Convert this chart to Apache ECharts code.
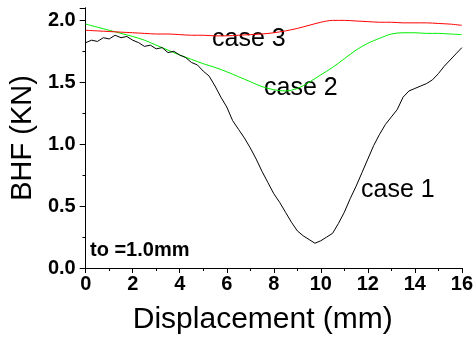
<!DOCTYPE html>
<html>
<head>
<meta charset="utf-8">
<script src="https://cdn.jsdelivr.net/npm/echarts@6/dist/echarts.min.js"></script>
<style>
  html, body { margin: 0; padding: 0; background: #fff; }
  #chart { width: 476px; height: 340px; }
</style>
</head>
<body>
<div id="chart"></div>
<script>
// case 1 (black), sampled every 0.25 mm
const dispFine = [0, 0.25, 0.5, 0.75, 1, 1.25, 1.5, 1.75, 2, 2.25, 2.5, 2.75, 3, 3.25, 3.5, 3.75,
  4, 4.25, 4.5, 4.75, 5, 5.25, 5.5, 5.75, 6, 6.25, 6.5, 6.75, 7, 7.25, 7.5, 7.75,
  8, 8.25, 8.5, 8.75, 9, 9.25, 9.5, 9.75, 10, 10.25, 10.5, 10.75, 11, 11.25, 11.5, 11.75,
  12, 12.25, 12.5, 12.75, 13, 13.25, 13.5, 13.75, 14, 14.25, 14.5, 14.75, 15, 15.25, 15.5, 15.75, 16];
const case1 = [1.82, 1.84, 1.83, 1.86, 1.85, 1.88, 1.86, 1.87, 1.84, 1.82, 1.79, 1.80, 1.77, 1.78, 1.74, 1.75,
  1.72, 1.70, 1.66, 1.64, 1.59, 1.55, 1.47, 1.38, 1.30, 1.19, 1.12, 1.05, 0.97, 0.88, 0.78, 0.69,
  0.60, 0.53, 0.45, 0.37, 0.30, 0.26, 0.23, 0.20, 0.22, 0.25, 0.28, 0.36, 0.45, 0.56, 0.66, 0.77,
  0.88, 0.99, 1.08, 1.16, 1.22, 1.28, 1.38, 1.43, 1.45, 1.47, 1.49, 1.52, 1.57, 1.63, 1.68, 1.73, 1.78];

// case 2 (green) and case 3 (red), sampled every 0.5 mm
const dispCoarse = [0, 0.5, 1, 1.5, 2, 2.5, 3, 3.5, 4, 4.5, 5, 5.5, 6, 6.5, 7, 7.5,
  8, 8.5, 9, 9.5, 10, 10.5, 11, 11.5, 12, 12.5, 13, 13.5, 14, 14.5, 15, 15.5, 16];
const case2 = [1.97, 1.945, 1.92, 1.895, 1.87, 1.84, 1.80, 1.76, 1.72, 1.685, 1.65, 1.62, 1.585, 1.545, 1.505, 1.465,
  1.44, 1.43, 1.45, 1.50, 1.56, 1.62, 1.69, 1.76, 1.815, 1.855, 1.89, 1.90, 1.90, 1.895, 1.895, 1.89, 1.885];
const case3 = [1.92, 1.915, 1.91, 1.905, 1.90, 1.895, 1.89, 1.89, 1.885, 1.88, 1.88, 1.875, 1.875, 1.88, 1.885, 1.89,
  1.90, 1.915, 1.935, 1.96, 1.985, 2.0, 2.0, 1.995, 1.99, 1.985, 1.985, 1.98, 1.98, 1.98, 1.975, 1.97, 1.96];

const xTicks = [0, 2, 4, 6, 8, 10, 12, 14, 16];
const yTicks = [0.0, 0.5, 1.0, 1.5, 2.0];

const pairs = (xs, ys) => xs.map((x, i) => [x, ys[i]]);

const chart = echarts.init(document.getElementById('chart'), null, { renderer: 'canvas' });

const tickFont = { color: '#000', fontFamily: 'Liberation Sans, Arial, sans-serif', fontWeight: 'bold', fontSize: 20 };
const nameFont = { color: '#000', fontFamily: 'Liberation Sans, Arial, sans-serif', fontSize: 29 };
const axisLine = { show: true, lineStyle: { color: '#000', width: 1 } };

chart.setOption({
  animation: false,
  grid: { left: 82, right: 12, top: 8, bottom: 72 },
  xAxis: [
    {
      type: 'value', min: xTicks[0], max: xTicks[xTicks.length - 1], interval: 2,
      position: 'bottom',
      name: 'Displacement (mm)', nameLocation: 'middle', nameGap: 37,
      nameTextStyle: { ...nameFont, fontSize: 30, padding: [0, 22, 0, 0] },
      axisLine, splitLine: { show: false },
      axisTick: { show: true, inside: false, length: 5, lineStyle: { color: '#000' } },
      minorTick: { show: true, splitNumber: 2, length: 3, lineStyle: { color: '#000' } },
      axisLabel: { ...tickFont, margin: 6, formatter: (v) => String(v) },
    },
    {
      type: 'value', min: 0, max: 16, interval: 1, position: 'top',
      axisLine, splitLine: { show: false },
      axisTick: { show: true, inside: true, length: 3, lineStyle: { color: '#000' } },
      axisLabel: { show: false },
    },
  ],
  yAxis: [
    {
      type: 'value', min: yTicks[0], max: 2.1, interval: 0.5, position: 'left',
      name: 'BHF (KN)', nameLocation: 'middle', nameGap: 48, nameTextStyle: nameFont,
      axisLine, splitLine: { show: false },
      axisTick: { show: true, inside: false, length: 6, lineStyle: { color: '#000' } },
      minorTick: { show: true, splitNumber: 2, length: 3, lineStyle: { color: '#000' } },
      axisLabel: { ...tickFont, margin: 10, showMaxLabel: false, formatter: (v) => v.toFixed(1) },
    },
    {
      type: 'value', min: 0, max: 2.1, interval: 0.25, position: 'right',
      axisLine, splitLine: { show: false },
      axisTick: { show: true, inside: true, length: 3, lineStyle: { color: '#000' } },
      axisLabel: { show: false },
    },
  ],
  series: [
    {
      name: 'case 2', type: 'line', data: pairs(dispCoarse, case2), smooth: 0.3,
      showSymbol: false, lineStyle: { color: '#00ee00', width: 1 },
    },
    {
      name: 'case 3', type: 'line', data: pairs(dispCoarse, case3), smooth: 0.3,
      showSymbol: false, lineStyle: { color: '#ff0000', width: 1 },
    },
    {
      name: 'case 1', type: 'line', data: pairs(dispFine, case1),
      showSymbol: false, lineStyle: { color: '#000', width: 1 },
    },
  ],
  graphic: [
    { type: 'text', left: 212, top: 27, style: { text: 'case 3', fill: '#000', font: '25px "Liberation Sans", Arial, sans-serif' } },
    { type: 'text', left: 264, top: 76, style: { text: 'case 2', fill: '#000', font: '25px "Liberation Sans", Arial, sans-serif' } },
    { type: 'text', left: 361, top: 178, style: { text: 'case 1', fill: '#000', font: '25px "Liberation Sans", Arial, sans-serif' } },
    { type: 'text', left: 90, top: 240, style: { text: 'to =1.0mm', fill: '#000', font: 'bold 20px "Liberation Sans", Arial, sans-serif' } },
  ],
});
</script>
</body>
</html>
